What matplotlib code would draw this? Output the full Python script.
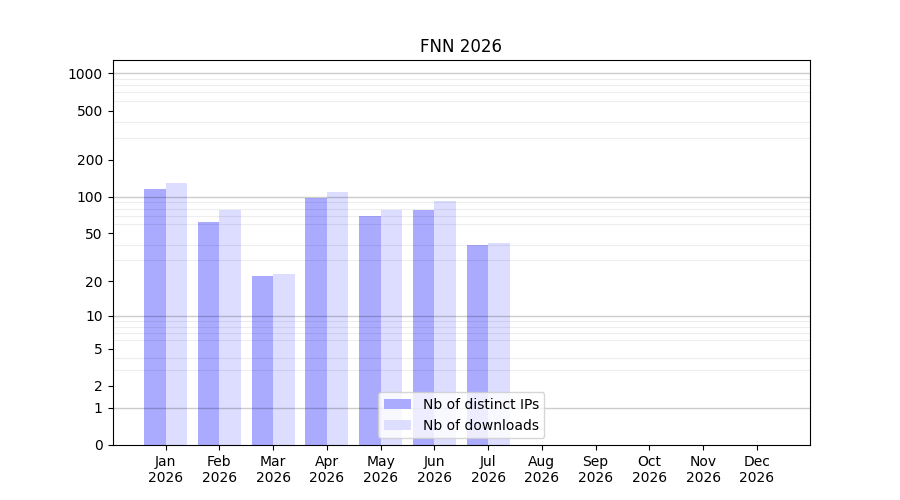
import numpy as np
import matplotlib
matplotlib.use("Agg")
import matplotlib.pyplot as plt

# monthly stats
months = ["Jan", "Feb", "Mar", "Apr", "May", "Jun", "Jul", "Aug", "Sep", "Oct", "Nov", "Dec"]
year = "2026"
nb_ips = [115, 62, 22, 97, 69, 78, 40, 0, 0, 0, 0, 0]
nb_downloads = [129, 78, 23, 109, 78, 92, 42, 0, 0, 0, 0, 0]

ytick_vals = [0, 1, 2, 5, 10, 20, 50, 100, 200, 500, 1000]
decades = [1, 10, 100, 1000]


def fwd(v):
    return np.log10(1 + np.asarray(v, dtype=float))


def inv(v):
    return 10 ** np.asarray(v, dtype=float) - 1


fig, ax = plt.subplots(figsize=(9, 5), dpi=100)
x = np.arange(len(months))
ax.bar(x - 0.2, nb_ips, width=0.4, color="#aaaaff", label="Nb of distinct IPs")
ax.bar(x + 0.2, nb_downloads, width=0.4, color="#ddddff", label="Nb of downloads")

ax.set_yscale("function", functions=(fwd, inv))
ax.set_ylim(0, 1280)
ax.set_yticks(ytick_vals)
ax.set_yticklabels([str(v) for v in ytick_vals])

minor = []
for d in decades[:-1]:
    minor += [d * k for k in range(2, 10)]
ax.set_yticks(minor, minor=True)
ax.tick_params(axis="y", which="minor", length=0)
ax.grid(True, axis="y", which="minor", color="k", alpha=0.07)
for d in decades:
    ax.axhline(d, color="k", alpha=0.2, lw=1, zorder=1.5)

ax.set_xticks(x)
ax.set_xticklabels([m + "\n" + year for m in months])
ax.set_title("FNN " + year)
ax.legend(loc="lower center")

fig.savefig("out.png")
